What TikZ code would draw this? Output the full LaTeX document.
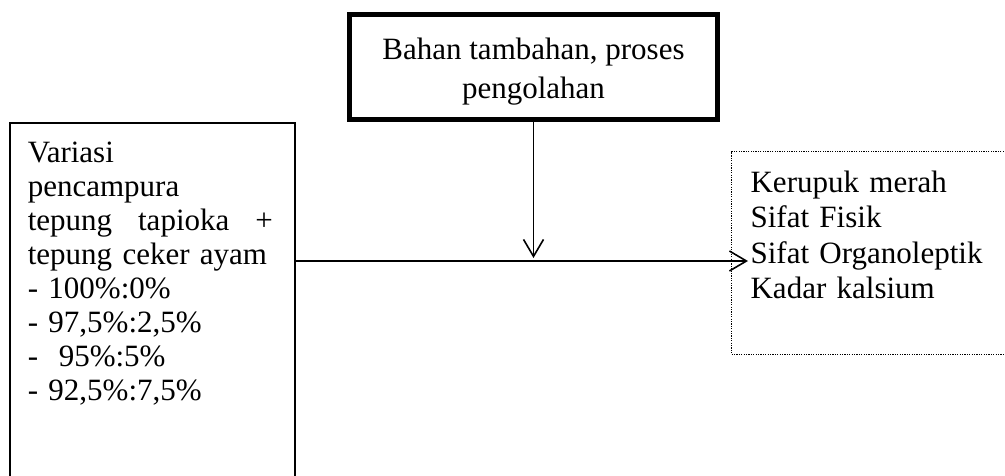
\documentclass[tikz,border=0pt]{standalone}
\usepackage{fontspec}
\setmainfont{Liberation Serif}
\usetikzlibrary{arrows.meta, positioning}

\begin{document}
\begin{tikzpicture}[
        x=1pt, y=-1pt,
        treatbox/.style={rectangle, draw=black, line width=5pt, minimum width=368pt, align=center, inner ysep=14.8pt, font=\fontsize{31}{39}\selectfont},
        inbox/.style={rectangle, draw=black, line width=1.6pt, text width=249pt, align=left, inner xsep=18pt, inner ysep=19pt, font=\fontsize{31}{34}\selectfont},
        outbox/.style={rectangle, draw=black, line width=1.2pt, dash pattern=on 1.2pt off 1.2pt, text width=262pt, align=left, inner xsep=19pt, inner ysep=19pt, font=\fontsize{31}{35.5}\selectfont},
        arrow/.style={-{Straight Barb[length=17pt, width=20pt, line width=1.6pt]}, line width=1.6pt}
    ]
    \useasboundingbox (0,0) rectangle (1005,475);

    \node (treat) [treatbox, anchor=north] at (533.5,12) {\mbox{}\\[-9.3pt]Bahan tambahan, proses\\pengolahan};
    \node (input) [inbox, anchor=north west] at (9,122) {Variasi\\pencampura\\\makebox[245pt][s]{tepung\hfill tapioka\hfill +}\\tepung ceker ayam\\- 100\%:0\%\\- 97,5\%:2,5\%\\-\ \ 95\%:5\%\\- 92,5\%:7,5\%\\[60pt]\mbox{}};
    \node (output) [outbox, anchor=north west] at (731,151) {Kerupuk merah\\Sifat Fisik\\Sifat Organoleptik\\Kadar kalsium\\[1pt]\mbox{}};

    \coordinate (join) at (treat.south |- 0,261);
    \coordinate (tip) at (748,261);

    \draw [arrow, shorten >=3pt] (treat.south) -- (join);
    \draw [arrow] (input.east |- join) -- (tip);

\end{tikzpicture}
\end{document}
